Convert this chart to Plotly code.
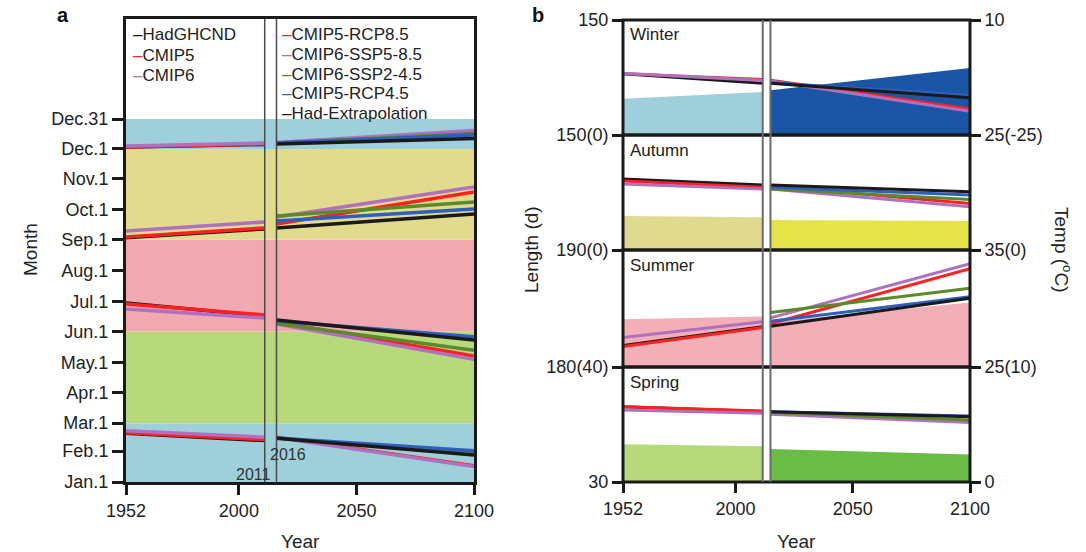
import plotly.graph_objects as go

W, H = 1086, 552

# ---------------- data ----------------
HIST_SERIES = ["HadGHCND", "CMIP5", "CMIP6"]
FUT_SERIES = ["CMIP5-RCP8.5", "CMIP6-SSP5-8.5", "CMIP6-SSP2-4.5", "CMIP5-RCP4.5", "Had-Extrapolation"]
HIST_COLORS = ["#1a1a1a", "#ff2020", "#b070c0"]
FUT_COLORS = ["#ff2020", "#b070c0", "#5a8a2a", "#2e5fbf", "#1a1a1a"]

# panel a x positions (trend end points)
A_HIST_YEARS = [1952, 2011]
A_FUT_YEARS = [2016, 2100]

MONTH_DAYS = [1, 32, 60, 91, 121, 152, 182, 213, 244, 274, 305, 335, 365]
MONTH_LABELS = ["Jan.1", "Feb.1", "Mar.1", "Apr.1", "May.1", "Jun.1", "Jul.1",
                "Aug.1", "Sep.1", "Oct.1", "Nov.1", "Dec.1", "Dec.31"]

SEASON_BANDS = [1, 60, 152, 244, 335, 365]
SEASON_BAND_COLORS = ["#9ecfdb", "#b8d87c", "#f2a8b0", "#e2db8e", "#9ecfdb"]

# onset day-of-year, hist order = HIST_SERIES, fut order = FUT_SERIES
spring_onset_hist = [[50, 42.5], [50.5, 43.5], [52.5, 46]]
spring_onset_fut = [[46, 17.3], [45.5, 16.5], [45, 30], [45, 32.4], [44.8, 28]]
summer_onset_hist = [[180.5, 167.5], [179.5, 168.5], [174.5, 165.5]]
summer_onset_fut = [[161.5, 127.4], [159.5, 124], [160, 133], [162.5, 146.7], [163.5, 143.4]]
autumn_onset_hist = [[246, 254.8], [246.7, 255.8], [252.8, 261.8]]
autumn_onset_fut = [[259.8, 291.9], [266.8, 296.9], [267.8, 281.8], [262.8, 274.8], [255.8, 269.8]]
winter_onset_hist = [[337, 339.5], [337, 340], [338, 341]]
winter_onset_fut = [[341, 352], [341.5, 353.5], [341, 350.5], [341, 349], [340, 345.5]]

# panel b
B_HIST_YEARS = [1952, 2011.6]
B_FUT_YEARS = [2014.9, 2100]

winter_len_hist = [[80, 67.5], [80, 72.5], [80.5, 71]]
winter_len_fut = [[71.5, 34], [70.5, 31], [68, 49.5], [68, 52], [67.5, 48.7]]
winter_temp_hist = [-14.0, -11.9]
winter_temp_fut = [-11.4, -4.6]

autumn_len_hist = [[92.5, 84.8], [90, 82], [86, 79.6]]
autumn_len_fut = [[83.5, 60.7], [79.6, 56.5], [79.6, 66], [82, 71.7], [84.8, 76]]
autumn_temp_hist = [7.4, 7.1]
autumn_temp_fut = [6.5, 6.3]

summer_len_hist = [[67.5, 91.5], [66.4, 90.6], [77.7, 98]]
summer_len_fut = [[95.5, 166], [103, 172.5], [110, 141], [98.8, 130], [92.3, 128.3]]
summer_temp_hist = [20.2, 20.8]
summer_temp_fut = [19.6, 23.8]

spring_len_hist = [[128, 122], [128.2, 122.6], [124, 119.6]]
spring_len_fut = [[121, 110], [118.3, 107.5], [120.5, 111], [121.5, 116], [121.7, 115.2]]
spring_temp_hist = [8.2, 7.75]
spring_temp_fut = [7.2, 6.0]

# subpanel setup: name, len range, temp range, hist/fut fill colors, len ticks, temp ticks
SUBPANELS = [
    ("Winter", [0, 150], [-25, 10], "#9ecfdb", "#1a56a5",
     winter_len_hist, winter_len_fut, winter_temp_hist, winter_temp_fut,
     [150], ["150"], [10], ["10"]),
    ("Autumn", [0, 150], [0, 25], "#e0da8e", "#e6e34a",
     autumn_len_hist, autumn_len_fut, autumn_temp_hist, autumn_temp_fut,
     [150], ["150(0)"], [25], ["25(-25)"]),
    ("Summer", [40, 190], [10, 35], "#f2afb8", "#f2afb8",
     summer_len_hist, summer_len_fut, summer_temp_hist, summer_temp_fut,
     [190], ["190(0)"], [35], ["35(0)"]),
    ("Spring", [30, 180], [0, 25], "#b8d87c", "#6bbb47",
     spring_len_hist, spring_len_fut, spring_temp_hist, spring_temp_fut,
     [180, 30], ["180(40)", "30"], [25, 0], ["25(10)", "0"]),
]

# ---------------- layout helpers ----------------
def fx(p):
    return p / W

def fy(p):
    return 1 - p / H

FONT = "Liberation Sans, Arial, Helvetica, sans-serif"
TXT = "#222222"

fig = go.Figure()
layout = dict(
    template="none",
    width=W, height=H, margin=dict(l=0, r=0, t=0, b=0, pad=0, autoexpand=False),
    paper_bgcolor="white", plot_bgcolor="rgba(0,0,0,0)",
    showlegend=False, font=dict(family=FONT, size=18, color=TXT),
)
shapes = []
annotations = []

def note(text, x, y, size=19, angle=0, xanchor="center", color=TXT, xref="paper"):
    return dict(text=text, xref=xref, yref="paper", x=x, y=y, xanchor=xanchor,
                yanchor="middle", textangle=angle, showarrow=False,
                font=dict(size=size, color=color))

# ---------------- panel a ----------------
A_TOP_PX, A_BOT_PX = 19, 482
layout["xaxis"] = dict(domain=[fx(126), fx(474)], range=[1952, 2100], anchor="y",
                       tickvals=[1952, 2000, 2050, 2100], ticks="outside", ticklen=10,
                       tickwidth=3, tickcolor="#1a1a1a", showline=True, mirror=True,
                       linewidth=3, linecolor="#1a1a1a", showgrid=False, zeroline=False,
                       automargin=False, tickfont=dict(size=18))
layout["yaxis"] = dict(domain=[fy(A_BOT_PX), fy(A_TOP_PX)], range=[1, 465.3], anchor="x",
                       tickvals=MONTH_DAYS, ticktext=MONTH_LABELS, ticks="outside", ticklen=11,
                       tickwidth=3, tickcolor="#1a1a1a", showline=True, mirror=True,
                       linewidth=3, linecolor="#1a1a1a", showgrid=False, zeroline=False,
                       automargin=False, tickfont=dict(size=18))

for i in range(len(SEASON_BAND_COLORS)):
    shapes.append(dict(type="rect", xref="x", yref="y", x0=1952, x1=2100,
                       y0=SEASON_BANDS[i], y1=SEASON_BANDS[i + 1],
                       fillcolor=SEASON_BAND_COLORS[i], line=dict(width=0), layer="below"))

for hist, fut in [(spring_onset_hist, spring_onset_fut), (summer_onset_hist, summer_onset_fut),
                  (autumn_onset_hist, autumn_onset_fut), (winter_onset_hist, winter_onset_fut)]:
    for vals, col in zip(hist, HIST_COLORS):
        fig.add_trace(go.Scatter(x=A_HIST_YEARS, y=vals, mode="lines",
                                 line=dict(color=col, width=3.5), xaxis="x", yaxis="y"))
    for vals, col in zip(fut, FUT_COLORS):
        fig.add_trace(go.Scatter(x=A_FUT_YEARS, y=vals, mode="lines",
                                 line=dict(color=col, width=3.5), xaxis="x", yaxis="y"))

for yr in [2011, 2016]:
    shapes.append(dict(type="line", xref="x", yref="paper", x0=yr, x1=yr,
                       y0=fy(A_BOT_PX), y1=fy(A_TOP_PX), line=dict(color="#4a4a4a", width=1.5)))
annotations.append(note("2011", 2014.5, fy(474), size=16, xanchor="right", color="#333", xref="x"))
annotations.append(note("2016", 2012.4, fy(454), size=16, xanchor="left", color="#333", xref="x"))

# legend texts (panel a)
for i, (name, col) in enumerate(zip(HIST_SERIES, HIST_COLORS)):
    annotations.append(note(f"<span style='color:{col}'>–</span>{name}", fx(131),
                            fy(35 + 20 * i), size=17, xanchor="left"))
for i, (name, col) in enumerate(zip(FUT_SERIES, FUT_COLORS)):
    annotations.append(note(f"<span style='color:{col}'>–</span>{name}", fx(280),
                            fy(35 + 19.5 * i), size=17, xanchor="left"))

# ---------------- panel b ----------------
B_EDGES = [20, 135, 250, 367, 482]
layout["xaxis2"] = dict(domain=[fx(623), fx(970)], range=[1952, 2100], anchor="y9",
                        tickvals=[1952, 2000, 2050, 2100], ticks="outside", ticklen=10,
                        tickwidth=3, tickcolor="#1a1a1a", showline=False, showgrid=False,
                        zeroline=False, automargin=False, tickfont=dict(size=18))

for k, sp in enumerate(SUBPANELS):
    (name, lrange, trange, hcol, fcol, lhist, lfut, thist, tfut,
     lticks, ltext, tticks, ttext) = sp
    ta = 2 + 2 * k   # temp axis (base, right)
    la = 3 + 2 * k   # length axis (overlay, left)
    dom = [fy(B_EDGES[k + 1]), fy(B_EDGES[k])]
    layout[f"yaxis{ta}"] = dict(domain=dom, range=trange, anchor="x2", side="right",
                                tickvals=tticks, ticktext=ttext, ticks="outside", ticklen=10,
                                tickwidth=3, tickcolor="#1a1a1a", showgrid=False,
                                zeroline=False, showline=False, automargin=False,
                                tickfont=dict(size=18))
    layout[f"yaxis{la}"] = dict(domain=dom, range=lrange, anchor="x2", side="left",
                                overlaying=f"y{ta}", tickvals=lticks, ticktext=ltext,
                                ticks="outside", ticklen=10, tickwidth=3, tickcolor="#1a1a1a",
                                showgrid=False, zeroline=False, showline=False,
                                automargin=False, tickfont=dict(size=18))
    # temperature fills
    for yrs, vals, col in [(B_HIST_YEARS, thist, hcol), (B_FUT_YEARS, tfut, fcol)]:
        fig.add_trace(go.Scatter(x=[yrs[0], yrs[1], yrs[1], yrs[0]],
                                 y=[vals[0], vals[1], trange[0], trange[0]],
                                 fill="toself", fillcolor=col, mode="lines",
                                 line=dict(width=0, color=col),
                                 xaxis="x2", yaxis=f"y{ta}"))
    # length lines
    for vals, col in zip(lhist, HIST_COLORS):
        fig.add_trace(go.Scatter(x=B_HIST_YEARS, y=vals, mode="lines",
                                 line=dict(color=col, width=3), xaxis="x2", yaxis=f"y{la}"))
    for vals, col in zip(lfut, FUT_COLORS):
        fig.add_trace(go.Scatter(x=B_FUT_YEARS, y=vals, mode="lines",
                                 line=dict(color=col, width=3), xaxis="x2", yaxis=f"y{la}"))
    # frame
    shapes.append(dict(type="rect", xref="x2 domain", yref=f"y{ta} domain", x0=0, x1=1,
                       y0=0, y1=1, line=dict(color="#1a1a1a", width=3), layer="above"))
    annotations.append(note(name, fx(628), fy(B_EDGES[k] + 15), size=17, xanchor="left"))

for yr in B_HIST_YEARS[1:] + B_FUT_YEARS[:1]:
    shapes.append(dict(type="line", xref="x2", yref="paper", x0=yr, x1=yr,
                       y0=fy(482), y1=fy(20), line=dict(color="#6a6a6a", width=2)))

# titles
annotations += [
    note("<b>a</b>", fx(63), fy(15), size=20, color="#111"),
    note("<b>b</b>", fx(538), fy(15), size=20, color="#111"),
    note("Month", fx(30), fy(250), angle=-90),
    note("Year", fx(300), fy(541)),
    note("Year", fx(796), fy(541)),
    note("Length (d)", fx(531), fy(250), angle=-90),
    note("Temp (<sup>o</sup>C)", fx(1063), fy(250), angle=90),
]

layout["shapes"] = shapes
layout["annotations"] = annotations
fig.update_layout(**layout)
fig.write_html("out.html")
